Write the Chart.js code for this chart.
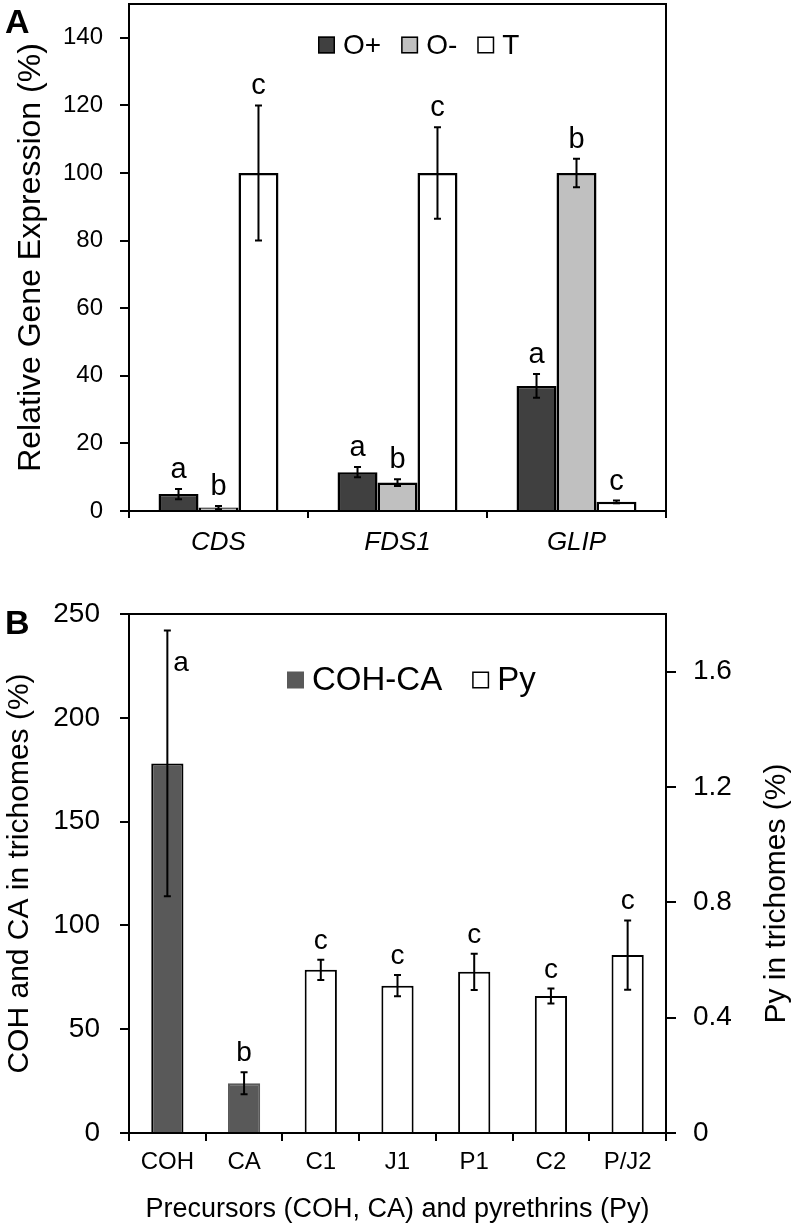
<!DOCTYPE html>
<html>
<head>
<meta charset="utf-8">
<script src="https://cdn.jsdelivr.net/npm/chart.js@4"></script>
<style>
  body { margin: 0; background: #fff; width: 797px; height: 1226px; position: relative; overflow: hidden; }
  .panel { position: absolute; left: 0; width: 797px; }
  .tag { position: absolute; left: 5px; font: bold 34px "Liberation Sans", Arial, sans-serif; line-height: 34px; }
</style>
</head>
<body>
<div class="panel" style="top:0;height:565px"><canvas id="chartA" width="797" height="565"></canvas></div>
<div class="panel" style="top:565px;height:661px"><canvas id="chartB" width="797" height="661"></canvas></div>
<div class="tag" style="top:4px">A</div>
<div class="tag" style="top:605px">B</div>
<script>
// ---- panel A data ----
const genes = ['CDS', 'FDS1', 'GLIP'];
const oPlus = [5, 11.5, 37];
const oPlusErr = [1.5, 1.5, 3.5];
const oPlusLetters = ['a', 'a', 'a'];
const oMinus = [1, 8.4, 100];
const oMinusErr = [0.5, 1, 4.2];
const oMinusLetters = ['b', 'b', 'b'];
const tVals = [100, 100, 2.7];
const tErr = [20, 13.5, 0.4];
const tLetters = ['c', 'c', 'c'];
const ticksA = [0, 20, 40, 60, 80, 100, 120, 140];

// ---- panel B data ----
const precursors = ['COH', 'CA', 'C1', 'J1', 'P1', 'C2', 'P/J2'];
const cohCa = [178, 24, null, null, null, null, null];
const cohCaErr = [64, 5.3, null, null, null, null, null];
const cohCaLetters = ['a', 'b', null, null, null, null, null];
const py = [null, null, 0.566, 0.511, 0.559, 0.475, 0.617];
const pyErr = [null, null, 0.035, 0.037, 0.063, 0.026, 0.12];
const pyLetters = [null, null, 'c', 'c', 'c', 'c', 'c'];
const ticksBLeft = [0, 50, 100, 150, 200, 250];
const ticksBRight = [0, 0.4, 0.8, 1.2, 1.6];

const FONT = '"Liberation Sans", Arial, sans-serif';

// error bars + significance letters, drawn from the bar elements and scales
const errorBarPlugin = {
  id: 'errorBars',
  afterDatasetsDraw(chart, args, opts) {
    const ctx = chart.ctx;
    const area = chart.chartArea;
    ctx.save();
    chart.data.datasets.forEach((ds, di) => {
      const meta = chart.getDatasetMeta(di);
      const yScale = chart.scales[meta.yAxisID];
      meta.data.forEach((bar, i) => {
        const v = ds.data[i];
        if (v == null) return;
        const e = ds.errors ? ds.errors[i] : null;
        const x = bar.x;
        let topY = yScale.getPixelForValue(v);
        if (e != null) {
          const y1 = yScale.getPixelForValue(v + e);
          const y2 = yScale.getPixelForValue(v - e);
          ctx.strokeStyle = '#000';
          ctx.lineWidth = 2;
          ctx.beginPath();
          ctx.moveTo(x, y1); ctx.lineTo(x, y2);
          ctx.moveTo(x - 3.5, y1); ctx.lineTo(x + 3.5, y1);
          ctx.moveTo(x - 3.5, y2); ctx.lineTo(x + 3.5, y2);
          ctx.stroke();
          topY = y1;
        }
        const letter = ds.letters ? ds.letters[i] : null;
        if (letter) {
          ctx.fillStyle = '#000';
          ctx.font = opts.size + 'px ' + FONT;
          ctx.textBaseline = 'alphabetic';
          if (topY - opts.gap - opts.size * 0.55 < area.top + 4) {
            // no room above: put the letter beside the error bar
            ctx.textAlign = 'left';
            ctx.fillText(letter, x + 6, topY + opts.size * 1.45);
          } else {
            ctx.textAlign = 'center';
            ctx.fillText(letter, x, topY - opts.gap);
          }
        }
      });
    });
    ctx.restore();
  }
};

// frame lines and in-plot legend
const framePlugin = {
  id: 'frame',
  afterDraw(chart, args, opts) {
    const ctx = chart.ctx;
    const a = chart.chartArea;
    ctx.save();
    ctx.strokeStyle = '#000';
    ctx.lineWidth = 2;
    ctx.beginPath();
    ctx.moveTo(a.left - (opts.topExtend || 0), a.top);
    ctx.lineTo(a.right, a.top);
    if (opts.rightLine) ctx.lineTo(a.right, a.bottom);
    ctx.stroke();

    // legend
    let x = opts.legendX;
    const y = opts.legendY;
    ctx.font = opts.legendSize + 'px ' + FONT;
    ctx.textBaseline = 'middle';
    ctx.textAlign = 'left';
    chart.data.datasets.forEach(ds => {
      ctx.fillStyle = ds.legendFill;
      ctx.fillRect(x, y - 8.5, 17, 17);
      if (ds.legendStroke) {
        ctx.lineWidth = 1.5;
        ctx.strokeStyle = '#000';
        ctx.strokeRect(x + 0.75, y - 7.75, 15.5, 15.5);
      }
      ctx.fillStyle = '#000';
      ctx.fillText(ds.label, x + 25, y + 1);
      x += 25 + ctx.measureText(ds.label).width + opts.legendGap;
    });

    // right axis title, reading bottom to top
    if (opts.rightTitle) {
      ctx.translate(opts.rightTitleX, (a.top + a.bottom) / 2 + 20);
      ctx.rotate(-Math.PI / 2);
      ctx.textAlign = 'center';
      ctx.font = opts.rightTitleSize + 'px ' + FONT;
      ctx.fillText(opts.rightTitle, 0, 0);
    }
    ctx.restore();
  }
};

const keepTicks = list => scale => {
  scale.ticks = list.map(v => ({ value: v }));
};
const fixWidth = w => s => { s.width = w; s.paddingTop = 0; s.paddingBottom = 0; };
const fixHeight = h => s => { s.height = h; s.paddingLeft = 0; s.paddingRight = 0; };

// ---------------- panel A ----------------
new Chart(document.getElementById('chartA'), {
  type: 'bar',
  data: {
    labels: genes,
    datasets: [
      { label: 'O+', data: oPlus, errors: oPlusErr, letters: oPlusLetters,
        backgroundColor: '#404040', borderColor: '#000', borderWidth: 2.5, legendFill: '#404040', legendStroke: true },
      { label: 'O-', data: oMinus, errors: oMinusErr, letters: oMinusLetters,
        backgroundColor: '#c0c0c0', borderColor: '#000', borderWidth: 2.5, legendFill: '#c0c0c0', legendStroke: true },
      { label: 'T', data: tVals, errors: tErr, letters: tLetters,
        backgroundColor: '#ffffff', borderColor: '#000', borderWidth: 2.5, legendFill: '#ffffff', legendStroke: true }
    ]
  },
  options: {
    responsive: false,
    animation: false,
    layout: { padding: { top: 4, right: 131, left: 0, bottom: 0 } },
    datasets: { bar: { categoryPercentage: 0.67, barPercentage: 1 } },
    plugins: {
      legend: { display: false },
      tooltip: { enabled: false },
      errorBars: { size: 29, gap: 11 },
      frame: { rightLine: true, legendX: 318, legendY: 45, legendSize: 28, legendGap: 20 }
    },
    scales: {
      x: {
        afterFit: fixHeight(54),
        grid: { offset: true, drawOnChartArea: false, drawTicks: true, tickLength: 7, color: '#000', lineWidth: 2 },
        border: { display: true, color: '#000', width: 2 },
        ticks: { color: '#000', padding: 9, font: { family: FONT, size: 26, style: 'italic' } }
      },
      y: {
        min: 0, max: 150,
        afterFit: fixWidth(129),
        afterBuildTicks: keepTicks(ticksA),
        grid: { drawOnChartArea: false, drawTicks: true, tickLength: 9, color: '#000', lineWidth: 2 },
        border: { display: true, color: '#000', width: 2 },
        ticks: { color: '#000', padding: 17, font: { family: FONT, size: 24 } },
        title: { display: true, text: 'Relative Gene Expression (%)', color: '#000',
                 padding: { top: 12 }, font: { family: FONT, size: 32 } }
      }
    }
  },
  plugins: [errorBarPlugin, framePlugin]
});

// ---------------- panel B ----------------
new Chart(document.getElementById('chartB'), {
  type: 'bar',
  data: {
    labels: precursors,
    datasets: [
      { label: 'COH-CA', data: cohCa, errors: cohCaErr, letters: cohCaLetters, yAxisID: 'y',
        backgroundColor: '#595959', borderColor: ['#000', '#595959'], borderWidth: 2,
        legendFill: '#595959', legendStroke: false },
      { label: 'Py', data: py, errors: pyErr, letters: pyLetters, yAxisID: 'y2',
        backgroundColor: '#ffffff', borderColor: '#000', borderWidth: 2,
        legendFill: '#ffffff', legendStroke: true }
    ]
  },
  options: {
    responsive: false,
    animation: false,
    layout: { padding: { top: 49, right: 0, left: 0, bottom: 0 } },
    datasets: { bar: { grouped: false, categoryPercentage: 1, barPercentage: 0.42 } },
    plugins: {
      legend: { display: false },
      tooltip: { enabled: false },
      errorBars: { size: 28, gap: 11 },
      frame: { rightLine: false, topExtend: 9, legendX: 287, legendY: 115, legendSize: 33, legendGap: 30,
               rightTitle: 'Py in trichomes (%)', rightTitleX: 777, rightTitleSize: 30 }
    },
    scales: {
      x: {
        afterFit: fixHeight(93),
        grid: { offset: true, drawOnChartArea: false, drawTicks: true, tickLength: 8, color: '#000', lineWidth: 2 },
        border: { display: true, color: '#000', width: 2 },
        ticks: { color: '#000', padding: 7, font: { family: FONT, size: 24 } },
        title: { display: true, text: 'Precursors (COH, CA) and pyrethrins (Py)', color: '#000',
                 padding: { top: 0, bottom: 0 }, font: { family: FONT, size: 27 } }
      },
      y: {
        position: 'left', min: 0, max: 250,
        afterFit: fixWidth(129),
        afterBuildTicks: keepTicks(ticksBLeft),
        grid: { drawOnChartArea: false, drawTicks: true, tickLength: 9, color: '#000', lineWidth: 2 },
        border: { display: true, color: '#000', width: 2 },
        ticks: { color: '#000', padding: 20, font: { family: FONT, size: 28 } },
        title: { display: true, text: 'COH and CA in trichomes (%)', color: '#000',
                 padding: { top: 2 }, font: { family: FONT, size: 30 } }
      },
      y2: {
        position: 'right', min: 0, max: 1.8,
        afterFit: fixWidth(131),
        afterBuildTicks: keepTicks(ticksBRight),
        grid: { drawOnChartArea: false, drawTicks: true, tickLength: 10, color: '#000', lineWidth: 2 },
        border: { display: true, color: '#000', width: 2 },
        ticks: { color: '#000', padding: 17, font: { family: FONT, size: 28 } }
      }
    }
  },
  plugins: [errorBarPlugin, framePlugin]
});
</script>
</body>
</html>
